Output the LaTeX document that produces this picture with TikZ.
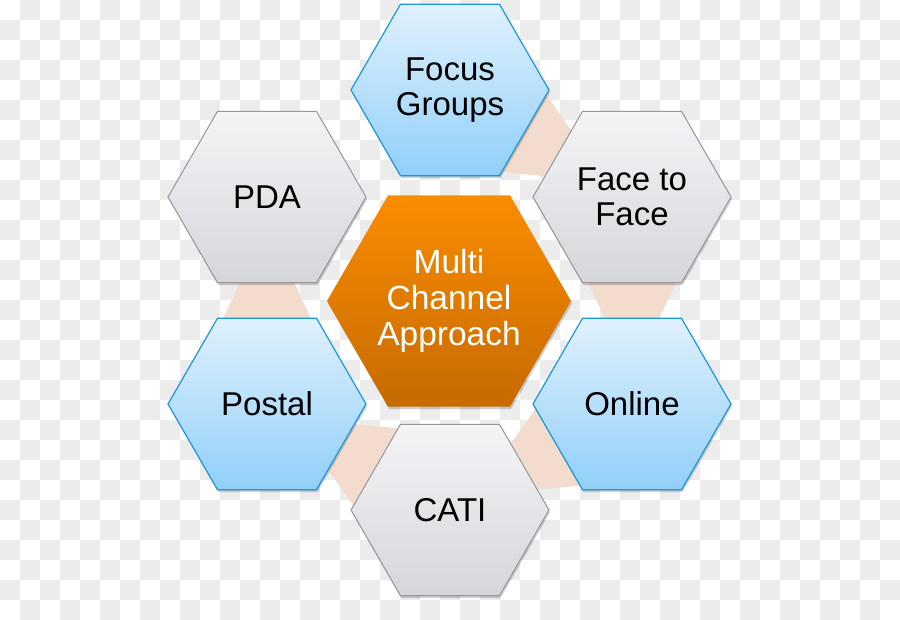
\documentclass[tikz,border=0pt]{standalone}
\usepackage{fontspec}
\setmainfont{Liberation Sans}
\usetikzlibrary{shapes.geometric,calc,shadows}

\definecolor{checkgray}{RGB}{236,236,236}
\definecolor{bandpeach}{RGB}{243,219,206}
\definecolor{bluetop}{RGB}{224,241,253}
\definecolor{bluebot}{RGB}{145,207,248}
\definecolor{blueline}{RGB}{27,152,213}
\definecolor{graytop}{RGB}{243,244,246}
\definecolor{graybot}{RGB}{213,214,218}
\definecolor{grayline}{RGB}{150,150,153}
\definecolor{orangetop}{RGB}{250,140,0}
\definecolor{orangebot}{RGB}{198,106,0}

\pgfdeclarelayer{back}
\pgfsetlayers{back,main}

\begin{document}
\begin{tikzpicture}[x=1pt, y=-1pt,
    hexbox/.style={regular polygon, regular polygon sides=6, minimum size=198pt,
      inner sep=0pt, align=center, font=\fontsize{33}{35}\selectfont,
      drop shadow={fill=black, opacity=0.18, shadow xshift=1pt, shadow yshift=-2.5pt}},
    bluehex/.style={hexbox, draw=blueline, line width=1.2pt, top color=bluetop, bottom color=bluebot},
    grayhex/.style={hexbox, draw=grayline, line width=1pt, top color=graytop, bottom color=graybot},
    hubhex/.style={hexbox, minimum size=244pt, top color=orangetop, bottom color=orangebot,
      text=white, font=\fontsize{33.5}{36}\selectfont},
    band/.style={fill=bandpeach}]

  %% ════ background checkerboard ════
  \begin{pgfonlayer}{back}
    \fill[white] (0,0) rectangle (900,620);
    \foreach \i in {0,...,44}
      \foreach \j in {0,...,30} {
        \pgfmathtruncatemacro\odd{mod(\i+\j,2)}
        \ifnum\odd=1 \fill[checkgray] (20*\i,20*\j) rectangle +(20,20); \fi
      }
  \end{pgfonlayer}

  %% ════ hexagons ════
  \node[hubhex]  (hub)    at (449,301) {Multi\\Channel\\Approach};
  \node[bluehex] (focus)  at (450,90)  {Focus\\Groups};
  \node[grayhex] (face)   at (632,197) {Face to\\Face};
  \node[bluehex] (online) at (632,404) {Online};
  \node[grayhex] (cati)   at (450,510) {CATI};
  \node[bluehex] (postal) at (267,404) {Postal};
  \node[grayhex] (pda)    at (267,197) {PDA};

  %% ════ tapered bands between neighbours (wide end first) ════
  \begin{pgfonlayer}{back}
    \foreach \a/\b in {focus/face, face/online, online/cati, cati/postal, postal/pda}
      \fill[band] ($(\a)!0.33!(\b)!52pt!90:(\b)$) -- ($(\a)!0.67!(\b)!19pt!90:(\b)$)
        -- ($(\a)!0.67!(\b)!19pt!-90:(\b)$) -- ($(\a)!0.33!(\b)!52pt!-90:(\b)$) -- cycle;
  \end{pgfonlayer}

  % fix the canvas
  \pgfresetboundingbox
  \path[use as bounding box] (0,0) rectangle (900,620);
\end{tikzpicture}
\end{document}
